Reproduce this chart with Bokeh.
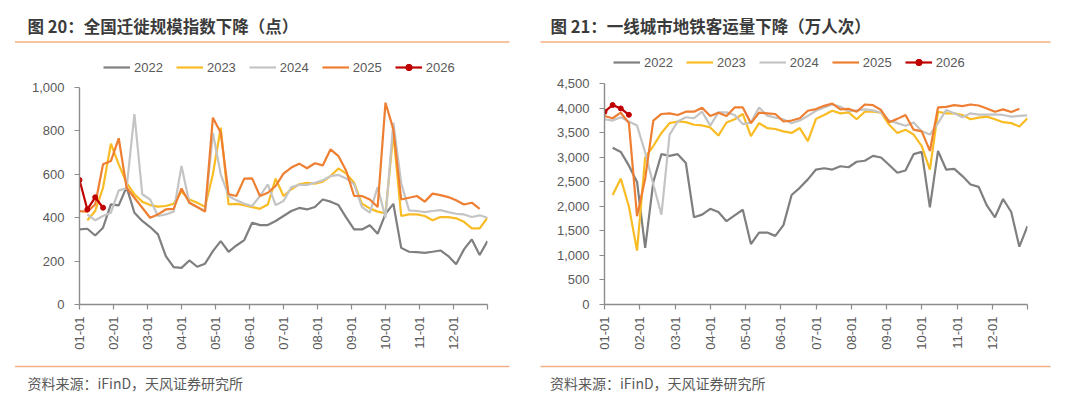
import math
from bokeh.plotting import figure
from bokeh.models import (Range1d, FixedTicker, CustomJSTickFormatter, NumeralTickFormatter,
                          Legend, LegendItem)
from bokeh.core.properties import value
from bokeh.layouts import row, column
from bokeh.embed import file_html
from bokeh.resources import INLINE

NaN = float("nan")

# ---------------- data ----------------
week = list(range(53))
month_labels = ["01-01", "02-01", "03-01", "04-01", "05-01", "06-01",
                "07-01", "08-01", "09-01", "10-01", "11-01", "12-01", ""]
years = ["2022", "2023", "2024", "2025", "2026"]
titles = ["图 20：全国迁徙规模指数下降（点）", "图 21：一线城市地铁客运量下降（万人次）"]
source_note = "资料来源：iFinD，天风证券研究所"

# 全国迁徙规模指数（点）
mig_2022 = [346, 349, 318, 354, 461, 457, 541, 423, 385, 357, 323, 223, 172, 169, 203, 174, 188, 246,
            292, 243, 272, 297, 377, 366, 366, 385, 408, 431, 445, 438, 449, 484, 474, 458, 400, 346,
            346, 365, 326, 418, 464, 261, 243, 241, 238, 243, 249, 223, 185, 254, 300, 228, 292]
mig_2023 = [NaN, 388, 431, 538, 741, 646, 561, 508, 474, 458, 451, 454, 464, 520, 484, 469, 450, 600,
            815, 461, 464, 458, 449, 441, 461, 580, 500, 531, 554, 561, 557, 566, 592, 627, 603, 561,
            464, 443, 428, 420, 790, 408, 415, 415, 408, 388, 403, 403, 397, 381, 351, 351, 400]
mig_2024 = [NaN, 415, 388, 408, 423, 526, 535, 877, 508, 484, 408, 415, 428, 638, 469, 449, 431, 790,
            600, 500, 480, 464, 454, 500, 554, 458, 477, 541, 551, 551, 561, 572, 592, 597, 581, 554,
            449, 423, 541, 400, 838, 560, 434, 431, 426, 431, 435, 426, 418, 415, 403, 411, 400]
mig_2025 = [430, 428, 461, 646, 661, 766, 538, 492, 446, 400, 415, 438, 441, 535, 469, 449, 428, 861,
            792, 508, 500, 580, 581, 500, 515, 546, 603, 631, 649, 628, 651, 641, 715, 684, 615, 500,
            500, 484, 449, 930, 807, 484, 492, 500, 474, 511, 504, 495, 480, 461, 469, 441, NaN]
mig_2026 = [574, 438, 494, 446]

# 一线城市地铁客运量（万人次）
metro_2022 = [NaN, 3200, 3113, 2833, 2500, 1153, 2500, 3067, 3033, 3067, 2887, 1780, 1833, 1953, 1887,
              1700, 1820, 1933, 1233, 1467, 1467, 1400, 1620, 2233, 2380, 2553, 2753, 2780, 2753, 2820,
              2800, 2913, 2933, 3033, 3000, 2847, 2687, 2733, 3067, 3113, 1980, 3133, 2753, 2767, 2620,
              2447, 2400, 2020, 1780, 2153, 1887, 1180, 1600]
metro_2023 = [NaN, 2233, 2567, 2000, 1100, 3000, 3233, 3500, 3700, 3733, 3720, 3667, 3653, 3613, 3447,
              3713, 3780, 3887, 3433, 3700, 3600, 3580, 3533, 3500, 3600, 3333, 3787, 3867, 3953, 3900,
              3920, 3780, 3933, 3933, 3913, 3667, 3500, 3567, 3467, 3233, 2753, 3933, 3900, 3900, 3867,
              3780, 3813, 3833, 3780, 3720, 3700, 3633, 3800]
metro_2024 = [3780, 3753, 3820, 3733, 3650, 3100, 2450, 1833, 3467, 3733, 3820, 3800, 3933, 3650, 3920,
              3920, 3867, 3680, 3713, 4020, 3853, 3813, 3780, 3700, 3753, 3847, 3953, 4020, 4080, 4033,
              3947, 3960, 3980, 3960, 3913, 3753, 3700, 3647, 3713, 3533, 3467, 3700, 3967, 3900, 3820,
              3900, 3873, 3873, 3880, 3867, 3833, 3847, 3860]
metro_2025 = [3847, 3800, 3913, 3700, 1800, 2567, 3753, 3887, 3900, 3867, 3933, 3933, 4013, 3847, 3913,
              3847, 4020, 4020, 3700, 3913, 3900, 3887, 3733, 3753, 3800, 3953, 3987, 4053, 4100, 3980,
              3993, 3933, 4080, 4067, 3967, 3720, 3787, 3867, 3567, 3533, 3133, 4020, 4033, 4067, 4047,
              4080, 4060, 4000, 3933, 3980, 3927, 3993, NaN]
metro_2026 = [3930, 4070, 4000, 3870]

# ---------------- style ----------------
COLORS = {"2022": "#7F7F7F", "2023": "#F9BC24", "2024": "#C4C4C4", "2025": "#EE7F32", "2026": "#C00000"}
AXIS_COLOR = "#8C8C8C"
TEXT_COLOR = "#595959"
SEP_COLOR = "#F4B183"
LATIN = "Liberation Sans"
CJK = "Noto Sans CJK SC"
W = 1080


def deco_figure(height):
    f = figure(width=W, height=height, x_range=Range1d(0, W), y_range=Range1d(height, 0),
               output_backend="svg", toolbar_location=None, min_border=0,
               outline_line_color=None, background_fill_color="white", border_fill_color="white")
    f.axis.visible = False
    f.grid.visible = False
    return f


# header: titles + orange rules
header = deco_figure(47)
header.text(x=[27, 550], y=[25, 25], text=titles, text_font=value(CJK), text_font_style="bold",
            text_font_size="16.5px", text_color="#3B3B3B", text_baseline="middle", text_align="left")
header.segment(x0=[14.5, 540], x1=[509, 1050], y0=[41.5, 41.5], y1=[41.5, 41.5],
               line_color=SEP_COLOR, line_width=1.6)

# footer: rules + source notes
footer = deco_figure(41)
footer.segment(x0=[14.5, 540], x1=[509, 1050], y0=[8, 8], y1=[8, 8], line_color=SEP_COLOR, line_width=1.6)
footer.text(x=[27, 549.5], y=[24, 24], text=[source_note, source_note], text_font=value(CJK),
            text_font_size="14px", text_color=TEXT_COLOR, text_baseline="middle", text_align="left")


def make_chart(series, ytop, ymax, ystep, borders, legend_loc):
    bl, br, bt, bb = borders
    p = figure(width=540, height=311, x_range=Range1d(0, 52), y_range=Range1d(0, ytop),
               output_backend="svg", toolbar_location=None,
               min_border_left=bl, min_border_right=br, min_border_top=bt, min_border_bottom=bb,
               outline_line_color=None, background_fill_color="white", border_fill_color="white")
    p.xgrid.visible = False
    p.ygrid.visible = False

    xa = p.xaxis[0]
    xa.ticker = FixedTicker(ticks=[52 * k / 12 for k in range(13)])
    xa.formatter = CustomJSTickFormatter(args=dict(labels=month_labels),
                                         code="const l = labels[index]; return l == null ? '' : l;")
    xa.major_label_orientation = math.pi / 2
    xa.major_label_standoff = 7
    ya = p.yaxis[0]
    ya.ticker = FixedTicker(ticks=list(range(0, ymax + 1, ystep)))
    ya.formatter = NumeralTickFormatter(format="0,0")
    ya.major_label_standoff = 10
    ya.bounds = (0, ymax)
    for ax in (xa, ya):
        ax.axis_line_color = AXIS_COLOR
        ax.axis_line_width = 1.4
        ax.major_tick_line_color = AXIS_COLOR
        ax.major_tick_line_width = 1.2
        ax.major_tick_out = 5
        ax.major_tick_in = 0
        ax.minor_tick_out = 0
        ax.minor_tick_in = 0
        ax.major_label_text_font = LATIN
        ax.major_label_text_font_size = "13px"
        ax.major_label_text_color = TEXT_COLOR

    items = []
    for yr in years:
        vals = series[yr]
        xs = week[:len(vals)]
        r = p.line(xs, vals, line_color=COLORS[yr], line_width=2.2)
        rends = [r]
        if yr == "2026":
            s = p.scatter(xs, vals, marker="circle", size=5, fill_color=COLORS[yr], line_color=COLORS[yr])
            rends.append(s)
        items.append(LegendItem(label=yr, renderers=rends))

    leg = Legend(items=items, orientation="horizontal", location=legend_loc, padding=0, margin=0,
                 spacing=13, glyph_width=27, glyph_height=16, label_standoff=4, label_height=16,
                 label_text_font=LATIN, label_text_font_size="13px", label_text_color=TEXT_COLOR,
                 border_line_color=None, background_fill_alpha=0)
    p.add_layout(leg)
    return p


# left: frame 79..487 (x), 47..304 (y); 0 at 304, 1000 at 87
p1 = make_chart({"2022": mig_2022, "2023": mig_2023, "2024": mig_2024, "2025": mig_2025, "2026": mig_2026},
                (304 - 47) / 0.217, 1000, 200, (79, 53, 0, 54), (24, 229))
# right: frame 604..1027 (x), 47..308 (y); 0 at 308, 4500 at 84
p2 = make_chart({"2022": metro_2022, "2023": metro_2023, "2024": metro_2024, "2025": metro_2025,
                 "2026": metro_2026},
                (308 - 47) * 4500 / 224, 4500, 500, (64, 53, 0, 50), (9, 234))

layout = column(header, row(p1, p2), footer)
open("out.html", "w").write(file_html(layout, INLINE))
